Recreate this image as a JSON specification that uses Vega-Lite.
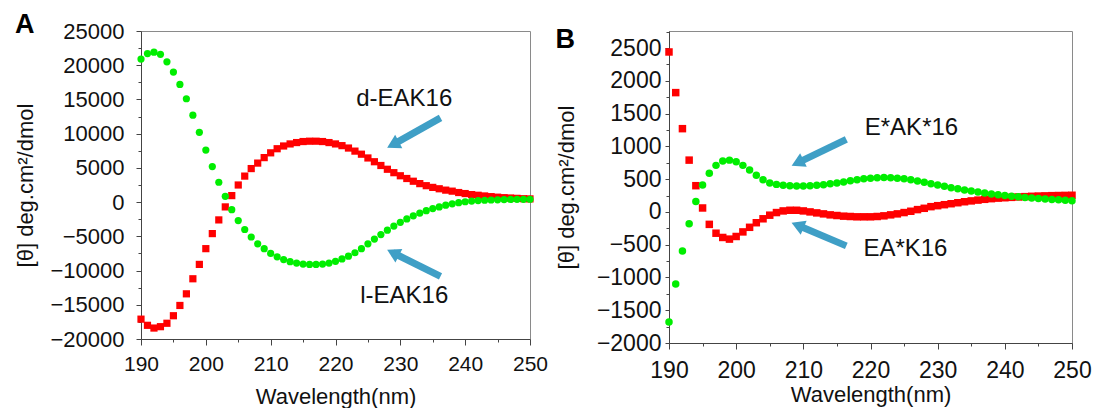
{
  "$schema": "https://vega.github.io/schema/vega-lite/v6.json",
  "padding": {"left": 14, "top": 10, "right": 0, "bottom": 0},
  "background": "white",
  "bounds": "flush",
  "spacing": 139,
  "config": {
    "font": "Liberation Sans",
    "view": {"stroke": "#8a8a8a", "strokeWidth": 1},
    "axis": {"grid": false, "labelFlush": false, "labelOverlap": false, "labelBound": false, "domainColor": "#444444", "tickColor": "#444444", "labelColor": "#111111", "titleColor": "#111111", "titleFontWeight": "normal", "labelFont": "Liberation Sans", "titleFont": "Liberation Sans"},
    "title": {"font": "Liberation Sans", "fontWeight": "bold", "color": "#000000"}
  },
  "datasets": {
    "a": [
      {"wl":190,"s":"d-EAK16","v":-17100},{"wl":191,"s":"d-EAK16","v":-18000},{"wl":192,"s":"d-EAK16","v":-18400},{"wl":193,"s":"d-EAK16","v":-18200},{"wl":194,"s":"d-EAK16","v":-17700},{"wl":195,"s":"d-EAK16","v":-16600},{"wl":196,"s":"d-EAK16","v":-15100},{"wl":197,"s":"d-EAK16","v":-13400},{"wl":198,"s":"d-EAK16","v":-11200},{"wl":199,"s":"d-EAK16","v":-9100},
      {"wl":200,"s":"d-EAK16","v":-6800},{"wl":201,"s":"d-EAK16","v":-4600},{"wl":202,"s":"d-EAK16","v":-2600},{"wl":203,"s":"d-EAK16","v":-700},{"wl":204,"s":"d-EAK16","v":950},{"wl":205,"s":"d-EAK16","v":2500},{"wl":206,"s":"d-EAK16","v":3800},{"wl":207,"s":"d-EAK16","v":4900},{"wl":208,"s":"d-EAK16","v":5700},{"wl":209,"s":"d-EAK16","v":6500},
      {"wl":210,"s":"d-EAK16","v":7200},{"wl":211,"s":"d-EAK16","v":7800},{"wl":212,"s":"d-EAK16","v":8200},{"wl":213,"s":"d-EAK16","v":8500},{"wl":214,"s":"d-EAK16","v":8700},{"wl":215,"s":"d-EAK16","v":8850},{"wl":216,"s":"d-EAK16","v":8900},{"wl":217,"s":"d-EAK16","v":8900},{"wl":218,"s":"d-EAK16","v":8850},{"wl":219,"s":"d-EAK16","v":8700},
      {"wl":220,"s":"d-EAK16","v":8500},{"wl":221,"s":"d-EAK16","v":8250},{"wl":222,"s":"d-EAK16","v":7900},{"wl":223,"s":"d-EAK16","v":7450},{"wl":224,"s":"d-EAK16","v":7000},{"wl":225,"s":"d-EAK16","v":6450},{"wl":226,"s":"d-EAK16","v":5900},{"wl":227,"s":"d-EAK16","v":5350},{"wl":228,"s":"d-EAK16","v":4800},{"wl":229,"s":"d-EAK16","v":4300},
      {"wl":230,"s":"d-EAK16","v":3850},{"wl":231,"s":"d-EAK16","v":3450},{"wl":232,"s":"d-EAK16","v":3050},{"wl":233,"s":"d-EAK16","v":2700},{"wl":234,"s":"d-EAK16","v":2400},{"wl":235,"s":"d-EAK16","v":2150},{"wl":236,"s":"d-EAK16","v":1950},{"wl":237,"s":"d-EAK16","v":1750},{"wl":238,"s":"d-EAK16","v":1600},{"wl":239,"s":"d-EAK16","v":1400},
      {"wl":240,"s":"d-EAK16","v":1250},{"wl":241,"s":"d-EAK16","v":1100},{"wl":242,"s":"d-EAK16","v":1000},{"wl":243,"s":"d-EAK16","v":900},{"wl":244,"s":"d-EAK16","v":800},{"wl":245,"s":"d-EAK16","v":720},{"wl":246,"s":"d-EAK16","v":650},{"wl":247,"s":"d-EAK16","v":600},{"wl":248,"s":"d-EAK16","v":550},{"wl":249,"s":"d-EAK16","v":500},{"wl":250,"s":"d-EAK16","v":470},
      {"wl":190,"s":"l-EAK16","v":20900},{"wl":191,"s":"l-EAK16","v":21700},{"wl":192,"s":"l-EAK16","v":21900},{"wl":193,"s":"l-EAK16","v":21600},{"wl":194,"s":"l-EAK16","v":20500},{"wl":195,"s":"l-EAK16","v":19000},{"wl":196,"s":"l-EAK16","v":17200},{"wl":197,"s":"l-EAK16","v":15100},{"wl":198,"s":"l-EAK16","v":12700},{"wl":199,"s":"l-EAK16","v":10200},
      {"wl":200,"s":"l-EAK16","v":7600},{"wl":201,"s":"l-EAK16","v":5200},{"wl":202,"s":"l-EAK16","v":2900},{"wl":203,"s":"l-EAK16","v":850},{"wl":204,"s":"l-EAK16","v":-1100},{"wl":205,"s":"l-EAK16","v":-2700},{"wl":206,"s":"l-EAK16","v":-4000},{"wl":207,"s":"l-EAK16","v":-5100},{"wl":208,"s":"l-EAK16","v":-6100},{"wl":209,"s":"l-EAK16","v":-6800},
      {"wl":210,"s":"l-EAK16","v":-7500},{"wl":211,"s":"l-EAK16","v":-8000},{"wl":212,"s":"l-EAK16","v":-8400},{"wl":213,"s":"l-EAK16","v":-8700},{"wl":214,"s":"l-EAK16","v":-8900},{"wl":215,"s":"l-EAK16","v":-9050},{"wl":216,"s":"l-EAK16","v":-9100},{"wl":217,"s":"l-EAK16","v":-9100},{"wl":218,"s":"l-EAK16","v":-9050},{"wl":219,"s":"l-EAK16","v":-8900},
      {"wl":220,"s":"l-EAK16","v":-8650},{"wl":221,"s":"l-EAK16","v":-8300},{"wl":222,"s":"l-EAK16","v":-7900},{"wl":223,"s":"l-EAK16","v":-7400},{"wl":224,"s":"l-EAK16","v":-6800},{"wl":225,"s":"l-EAK16","v":-6100},{"wl":226,"s":"l-EAK16","v":-5400},{"wl":227,"s":"l-EAK16","v":-4750},{"wl":228,"s":"l-EAK16","v":-4100},{"wl":229,"s":"l-EAK16","v":-3500},
      {"wl":230,"s":"l-EAK16","v":-2950},{"wl":231,"s":"l-EAK16","v":-2450},{"wl":232,"s":"l-EAK16","v":-2000},{"wl":233,"s":"l-EAK16","v":-1600},{"wl":234,"s":"l-EAK16","v":-1250},{"wl":235,"s":"l-EAK16","v":-950},{"wl":236,"s":"l-EAK16","v":-700},{"wl":237,"s":"l-EAK16","v":-450},{"wl":238,"s":"l-EAK16","v":-250},{"wl":239,"s":"l-EAK16","v":-80},
      {"wl":240,"s":"l-EAK16","v":50},{"wl":241,"s":"l-EAK16","v":150},{"wl":242,"s":"l-EAK16","v":220},{"wl":243,"s":"l-EAK16","v":270},{"wl":244,"s":"l-EAK16","v":310},{"wl":245,"s":"l-EAK16","v":340},{"wl":246,"s":"l-EAK16","v":365},{"wl":247,"s":"l-EAK16","v":385},{"wl":248,"s":"l-EAK16","v":400},{"wl":249,"s":"l-EAK16","v":410},{"wl":250,"s":"l-EAK16","v":420}
    ],
    "b": [
      {"wl":190,"s":"EA*K16","v":2440},{"wl":191,"s":"EA*K16","v":1820},{"wl":192,"s":"EA*K16","v":1270},{"wl":193,"s":"EA*K16","v":790},{"wl":194,"s":"EA*K16","v":400},{"wl":195,"s":"EA*K16","v":60},{"wl":196,"s":"EA*K16","v":-190},{"wl":197,"s":"EA*K16","v":-325},{"wl":198,"s":"EA*K16","v":-390},{"wl":199,"s":"EA*K16","v":-415},
      {"wl":200,"s":"EA*K16","v":-375},{"wl":201,"s":"EA*K16","v":-305},{"wl":202,"s":"EA*K16","v":-235},{"wl":203,"s":"EA*K16","v":-165},{"wl":204,"s":"EA*K16","v":-105},{"wl":205,"s":"EA*K16","v":-50},{"wl":206,"s":"EA*K16","v":-10},{"wl":207,"s":"EA*K16","v":15},{"wl":208,"s":"EA*K16","v":25},{"wl":209,"s":"EA*K16","v":25},
      {"wl":210,"s":"EA*K16","v":15},{"wl":211,"s":"EA*K16","v":0},{"wl":212,"s":"EA*K16","v":-15},{"wl":213,"s":"EA*K16","v":-30},{"wl":214,"s":"EA*K16","v":-45},{"wl":215,"s":"EA*K16","v":-55},{"wl":216,"s":"EA*K16","v":-65},{"wl":217,"s":"EA*K16","v":-70},{"wl":218,"s":"EA*K16","v":-75},{"wl":219,"s":"EA*K16","v":-75},
      {"wl":220,"s":"EA*K16","v":-75},{"wl":221,"s":"EA*K16","v":-70},{"wl":222,"s":"EA*K16","v":-60},{"wl":223,"s":"EA*K16","v":-45},{"wl":224,"s":"EA*K16","v":-30},{"wl":225,"s":"EA*K16","v":-10},{"wl":226,"s":"EA*K16","v":10},{"wl":227,"s":"EA*K16","v":35},{"wl":228,"s":"EA*K16","v":55},{"wl":229,"s":"EA*K16","v":80},
      {"wl":230,"s":"EA*K16","v":95},{"wl":231,"s":"EA*K16","v":110},{"wl":232,"s":"EA*K16","v":125},{"wl":233,"s":"EA*K16","v":140},{"wl":234,"s":"EA*K16","v":155},{"wl":235,"s":"EA*K16","v":168},{"wl":236,"s":"EA*K16","v":180},{"wl":237,"s":"EA*K16","v":192},{"wl":238,"s":"EA*K16","v":202},{"wl":239,"s":"EA*K16","v":210},
      {"wl":240,"s":"EA*K16","v":216},{"wl":241,"s":"EA*K16","v":222},{"wl":242,"s":"EA*K16","v":228},{"wl":243,"s":"EA*K16","v":233},{"wl":244,"s":"EA*K16","v":238},{"wl":245,"s":"EA*K16","v":242},{"wl":246,"s":"EA*K16","v":245},{"wl":247,"s":"EA*K16","v":248},{"wl":248,"s":"EA*K16","v":250},{"wl":249,"s":"EA*K16","v":252},{"wl":250,"s":"EA*K16","v":254},
      {"wl":190,"s":"E*AK*16","v":-1680},{"wl":191,"s":"E*AK*16","v":-1100},{"wl":192,"s":"E*AK*16","v":-595},{"wl":193,"s":"E*AK*16","v":-180},{"wl":194,"s":"E*AK*16","v":160},{"wl":195,"s":"E*AK*16","v":410},{"wl":196,"s":"E*AK*16","v":590},{"wl":197,"s":"E*AK*16","v":710},{"wl":198,"s":"E*AK*16","v":775},{"wl":199,"s":"E*AK*16","v":790},
      {"wl":200,"s":"E*AK*16","v":765},{"wl":201,"s":"E*AK*16","v":710},{"wl":202,"s":"E*AK*16","v":640},{"wl":203,"s":"E*AK*16","v":560},{"wl":204,"s":"E*AK*16","v":490},{"wl":205,"s":"E*AK*16","v":440},{"wl":206,"s":"E*AK*16","v":420},{"wl":207,"s":"E*AK*16","v":405},{"wl":208,"s":"E*AK*16","v":398},{"wl":209,"s":"E*AK*16","v":395},
      {"wl":210,"s":"E*AK*16","v":395},{"wl":211,"s":"E*AK*16","v":398},{"wl":212,"s":"E*AK*16","v":405},{"wl":213,"s":"E*AK*16","v":415},{"wl":214,"s":"E*AK*16","v":428},{"wl":215,"s":"E*AK*16","v":442},{"wl":216,"s":"E*AK*16","v":458},{"wl":217,"s":"E*AK*16","v":475},{"wl":218,"s":"E*AK*16","v":490},{"wl":219,"s":"E*AK*16","v":505},
      {"wl":220,"s":"E*AK*16","v":515},{"wl":221,"s":"E*AK*16","v":522},{"wl":222,"s":"E*AK*16","v":525},{"wl":223,"s":"E*AK*16","v":522},{"wl":224,"s":"E*AK*16","v":515},{"wl":225,"s":"E*AK*16","v":505},{"wl":226,"s":"E*AK*16","v":490},{"wl":227,"s":"E*AK*16","v":472},{"wl":228,"s":"E*AK*16","v":452},{"wl":229,"s":"E*AK*16","v":430},
      {"wl":230,"s":"E*AK*16","v":410},{"wl":231,"s":"E*AK*16","v":390},{"wl":232,"s":"E*AK*16","v":370},{"wl":233,"s":"E*AK*16","v":352},{"wl":234,"s":"E*AK*16","v":335},{"wl":235,"s":"E*AK*16","v":318},{"wl":236,"s":"E*AK*16","v":302},{"wl":237,"s":"E*AK*16","v":288},{"wl":238,"s":"E*AK*16","v":274},{"wl":239,"s":"E*AK*16","v":262},
      {"wl":240,"s":"E*AK*16","v":250},{"wl":241,"s":"E*AK*16","v":240},{"wl":242,"s":"E*AK*16","v":230},{"wl":243,"s":"E*AK*16","v":220},{"wl":244,"s":"E*AK*16","v":212},{"wl":245,"s":"E*AK*16","v":204},{"wl":246,"s":"E*AK*16","v":197},{"wl":247,"s":"E*AK*16","v":190},{"wl":248,"s":"E*AK*16","v":184},{"wl":249,"s":"E*AK*16","v":178},{"wl":250,"s":"E*AK*16","v":172}
    ],
    "arrA": [
      {"k":"d","wl":236.2,"v":12300,"wl2":228.86,"v2":8406},
      {"k":"l","wl":236.2,"v":-10850,"wl2":228.87,"v2":-7398}
    ],
    "arrB": [
      {"k":"e","wl":216.4,"v":1108,"wl2":209.14,"v2":748},
      {"k":"a","wl":216.4,"v":-518,"wl2":209.15,"v2":-203}
    ],
    "labA": [
      {"wl":230.6,"v":15000,"t":"d-EAK16"},
      {"wl":230.6,"v":-13670,"t":"l-EAK16"}
    ],
    "labB": [
      {"wl":226.1,"v":1276,"t":"E*AK*16"},
      {"wl":225.2,"v":-569,"t":"EA*K16"}
    ]
  },
  "hconcat": [
    {
      "width": 389,
      "height": 308,
      "title": {"text": "A", "fontSize": 27, "anchor": "start", "frame": "bounds", "offset": -19},
      "resolve": {"axis": {"x": "independent", "y": "independent"}},
      "layer": [
        {
          "data": {"name": "a"},
          "mark": {"type": "point", "filled": true, "size": 52, "opacity": 1},
          "encoding": {
            "x": {"field": "wl", "type": "quantitative", "scale": {"domain": [190, 250], "nice": false, "zero": false},
              "axis": {"orient": "bottom", "title": "Wavelength(nm)", "values": [190,200,210,220,230,240,250], "format": "d", "labelOverlap": false, "labelFlush": false,
                "tickSize": 6, "labelFontSize": 21, "titleFontSize": 22, "labelPadding": 8, "titlePadding": 12}},
            "y": {"field": "v", "type": "quantitative", "scale": {"domain": [-20000, 25000], "nice": false, "zero": false},
              "axis": {"orient": "left", "title": "[θ] deg.cm²/dmol", "values": [-20000,-15000,-10000,-5000,0,5000,10000,15000,20000,25000], "format": "d", "labelOverlap": false, "labelFlush": false,
                "tickSize": 5, "labelFontSize": 22, "titleFontSize": 22, "labelPadding": 12, "titlePadding": 12}},
            "color": {"field": "s", "type": "nominal", "scale": {"domain": ["d-EAK16", "l-EAK16"], "range": ["#ff0000", "#00ee00"]}, "legend": null},
            "shape": {"field": "s", "type": "nominal", "scale": {"domain": ["d-EAK16", "l-EAK16"], "range": ["square", "circle"]}, "legend": null}
          }
        },
        {
          "data": {"name": "arrA"},
          "mark": {"type": "rule", "strokeWidth": 7, "color": "#3f9fc6", "strokeCap": "butt"},
          "encoding": {
            "x": {"field": "wl", "type": "quantitative", "axis": null},
            "y": {"field": "v", "type": "quantitative", "axis": null},
            "x2": {"field": "wl2"},
            "y2": {"field": "v2"}
          }
        },
        {
          "data": {"name": "arrA"},
          "transform": [{"filter": "datum.k === 'd'"}],
          "mark": {"type": "point", "shape": "triangle-up", "filled": true, "size": 230, "angle": 242, "color": "#3f9fc6", "opacity": 1},
          "encoding": {"x": {"field": "wl2", "type": "quantitative", "axis": null}, "y": {"field": "v2", "type": "quantitative", "axis": null}}
        },
        {
          "data": {"name": "arrA"},
          "transform": [{"filter": "datum.k === 'l'"}],
          "mark": {"type": "point", "shape": "triangle-up", "filled": true, "size": 230, "angle": 297, "color": "#3f9fc6", "opacity": 1},
          "encoding": {"x": {"field": "wl2", "type": "quantitative", "axis": null}, "y": {"field": "v2", "type": "quantitative", "axis": null}}
        },
        {
          "data": {"name": "labA"},
          "mark": {"type": "text", "fontSize": 24, "font": "Liberation Sans", "color": "#111111", "align": "center", "baseline": "middle"},
          "encoding": {
            "x": {"field": "wl", "type": "quantitative", "axis": {"orient": "bottom", "values": [195,205,215,225,235,245], "labels": false, "domain": false, "title": null, "tickSize": 3}},
            "y": {"field": "v", "type": "quantitative", "axis": {"orient": "left", "values": [-17500,-12500,-7500,-2500,2500,7500,12500,17500,22500], "labels": false, "domain": false, "title": null, "tickSize": 3}},
            "text": {"field": "t"}
          }
        }
      ]
    },
    {
      "width": 403,
      "height": 312,
      "title": {"text": "B", "fontSize": 27, "anchor": "start", "frame": "bounds", "offset": -12, "dy": 11},
      "resolve": {"axis": {"x": "independent", "y": "independent"}},
      "layer": [
        {
          "data": {"name": "b"},
          "mark": {"type": "point", "filled": true, "size": 56, "opacity": 1},
          "encoding": {
            "x": {"field": "wl", "type": "quantitative", "scale": {"domain": [190, 250], "nice": false, "zero": false},
              "axis": {"orient": "bottom", "title": "Wavelength(nm)", "values": [190,200,210,220,230,240,250], "format": "d", "labelOverlap": false, "labelFlush": false,
                "tickSize": 6, "labelFontSize": 23, "titleFontSize": 22, "labelPadding": 10, "titlePadding": 2}},
            "y": {"field": "v", "type": "quantitative", "scale": {"domain": [-2000, 2760], "nice": false, "zero": false},
              "axis": {"orient": "left", "title": "[θ] deg.cm²/dmol", "values": [-2000,-1500,-1000,-500,0,500,1000,1500,2000,2500], "format": "d", "labelOverlap": false, "labelFlush": false,
                "tickSize": 4, "labelFontSize": 23, "titleFontSize": 22, "labelPadding": 4, "titlePadding": 18}},
            "color": {"field": "s", "type": "nominal", "scale": {"domain": ["EA*K16", "E*AK*16"], "range": ["#ff0000", "#00ee00"]}, "legend": null},
            "shape": {"field": "s", "type": "nominal", "scale": {"domain": ["EA*K16", "E*AK*16"], "range": ["square", "circle"]}, "legend": null}
          }
        },
        {
          "data": {"name": "arrB"},
          "mark": {"type": "rule", "strokeWidth": 7, "color": "#3f9fc6", "strokeCap": "butt"},
          "encoding": {
            "x": {"field": "wl", "type": "quantitative", "axis": null},
            "y": {"field": "v", "type": "quantitative", "axis": null},
            "x2": {"field": "wl2"},
            "y2": {"field": "v2"}
          }
        },
        {
          "data": {"name": "arrB"},
          "transform": [{"filter": "datum.k === 'e'"}],
          "mark": {"type": "point", "shape": "triangle-up", "filled": true, "size": 230, "angle": 244, "color": "#3f9fc6", "opacity": 1},
          "encoding": {"x": {"field": "wl2", "type": "quantitative", "axis": null}, "y": {"field": "v2", "type": "quantitative", "axis": null}}
        },
        {
          "data": {"name": "arrB"},
          "transform": [{"filter": "datum.k === 'a'"}],
          "mark": {"type": "point", "shape": "triangle-up", "filled": true, "size": 230, "angle": 293, "color": "#3f9fc6", "opacity": 1},
          "encoding": {"x": {"field": "wl2", "type": "quantitative", "axis": null}, "y": {"field": "v2", "type": "quantitative", "axis": null}}
        },
        {
          "data": {"name": "labB"},
          "mark": {"type": "text", "fontSize": 24, "font": "Liberation Sans", "color": "#111111", "align": "center", "baseline": "middle"},
          "encoding": {
            "x": {"field": "wl", "type": "quantitative", "axis": {"orient": "bottom", "values": [195,205,215,225,235,245], "labels": false, "domain": false, "title": null, "tickSize": 3}},
            "y": {"field": "v", "type": "quantitative", "axis": {"orient": "left", "values": [-1750,-1250,-750,-250,250,750,1250,1750,2250,2750], "labels": false, "domain": false, "title": null, "tickSize": 3}},
            "text": {"field": "t"}
          }
        }
      ]
    }
  ]
}
